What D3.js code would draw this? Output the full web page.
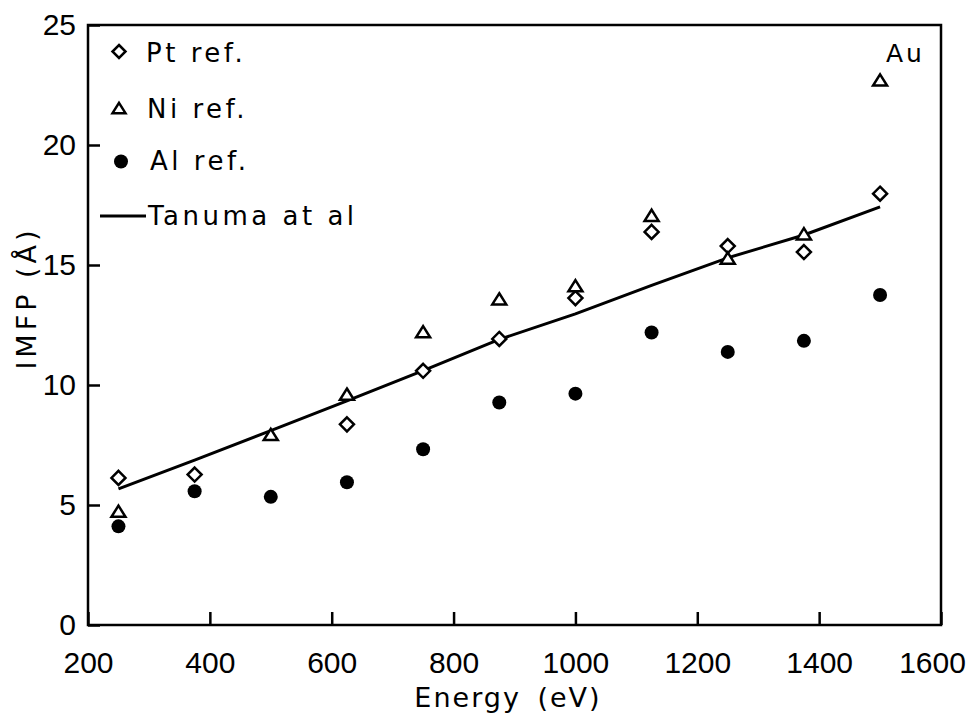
<!DOCTYPE html>
<html>
<head>
<meta charset="utf-8">
<script src="https://cdn.jsdelivr.net/npm/d3@7"></script>
<style>
  html, body { margin: 0; padding: 0; background: #fff; }
  svg { display: block; }
  .tick text { font-family: "Liberation Sans", Arial, sans-serif; font-size: 30px; fill: #000; }
  .lbl { font-family: "DejaVu Sans", sans-serif; fill: #000; }
</style>
</head>
<body>
<script>
// ---- data ----
const energies = [250, 375, 500, 625, 750, 875, 1000, 1125, 1250, 1375, 1500];
const ptRef   = [6.13, 6.27, null, 8.36, 10.59, 11.92, 13.62, 16.38, 15.79, 15.54, 17.97];
const niRef   = [4.74, null, 7.94, 9.62, 12.22, 13.59, 14.14, 17.07, 15.29, 16.30, 22.71];
const alRef   = [4.11, 5.57, 5.34, 5.95, 7.32, 9.27, 9.64, 12.19, 11.38, 11.84, 13.75];
const tanuma  = [5.67, 6.87, 8.10, 9.34, 10.60, 11.90, 12.96, 14.15, 15.30, 16.25, 17.42];
const xTicks = [200, 400, 600, 800, 1000, 1200, 1400, 1600];
const yTicks = [0, 5, 10, 15, 20, 25];
const legendLabels = ["Pt ref.", "Ni ref.", "Al ref.", "Tanuma at al"];
const annotation = "Au";

const W = 969, H = 717;
const svg = d3.select("body").append("svg").attr("width", W).attr("height", H);

const x = d3.scaleLinear().domain([200, 1600]).range([88, 941]);
const y = d3.scaleLinear().domain([0, 25]).range([625, 25]);

// frame
svg.append("rect")
  .attr("x", x(200)).attr("y", y(25))
  .attr("width", x(1600) - x(200)).attr("height", y(0) - y(25))
  .attr("fill", "none").attr("stroke", "#000").attr("stroke-width", 2.5);

// axes
const xAxis = svg.append("g").attr("transform", `translate(0,${y(0)})`)
  .call(d3.axisBottom(x).tickValues(xTicks).tickSize(-13).tickPadding(27).tickFormat(d3.format("d")));
xAxis.select(".domain").remove();
xAxis.selectAll(".tick line").attr("stroke", "#000").attr("stroke-width", 2.5);
xAxis.selectAll(".tick text").filter(d => d === 1600).attr("dx", -9);

const yAxis = svg.append("g").attr("transform", `translate(${x(200)},0)`)
  .call(d3.axisLeft(y).tickValues(yTicks).tickSize(-12).tickPadding(12).tickFormat(d3.format("d")));
yAxis.select(".domain").remove();
yAxis.selectAll(".tick line").attr("stroke", "#000").attr("stroke-width", 2.5);

// axis titles
svg.append("text").attr("class", "lbl")
  .attr("x", 508).attr("y", 707).attr("text-anchor", "middle")
  .style("font-size", "27px").style("letter-spacing", "2px").style("word-spacing", "6px")
  .text("Energy (eV)");
svg.append("text").attr("class", "lbl")
  .attr("transform", "translate(36,298) rotate(-90)").attr("text-anchor", "middle")
  .style("font-size", "27px").style("letter-spacing", "4px")
  .text("IMFP (Å)");

// Tanuma line
const line = d3.line().x((d, i) => x(energies[i])).y(d => y(d));
svg.append("path").datum(tanuma)
  .attr("d", line).attr("fill", "none").attr("stroke", "#000").attr("stroke-width", 3);

// markers
const diamond = s => `M0,${-s} L${s},0 L0,${s} L${-s},0 Z`;
const triangle = s => `M0,${-s * 0.8} L${s},${s * 0.8} L${-s},${s * 0.8} Z`;

function pts(arr) {
  return arr.map((v, i) => ({ e: energies[i], v })).filter(d => d.v !== null);
}

svg.append("g").selectAll("path").data(pts(ptRef)).join("path")
  .attr("transform", d => `translate(${x(d.e)},${y(d.v)})`)
  .attr("d", diamond(7)).attr("fill", "#fff").attr("stroke", "#000").attr("stroke-width", 2.5);

svg.append("g").selectAll("path").data(pts(niRef)).join("path")
  .attr("transform", d => `translate(${x(d.e)},${y(d.v)})`)
  .attr("d", triangle(7)).attr("fill", "#fff").attr("stroke", "#000").attr("stroke-width", 2.5);

svg.append("g").selectAll("circle").data(pts(alRef)).join("circle")
  .attr("cx", d => x(d.e)).attr("cy", d => y(d.v)).attr("r", 7).attr("fill", "#000");

// annotation
svg.append("text").attr("class", "lbl")
  .attr("x", 886).attr("y", 62)
  .style("font-size", "25px").style("letter-spacing", "3px")
  .text(annotation);

// legend
const leg = svg.append("g");
const rows = [
  { yc: 51.5, base: 62, tx: 146 },
  { yc: 108, base: 118, tx: 147 },
  { yc: 161.5, base: 170, tx: 150 },
  { yc: 216, base: 225, tx: 148 }
];
leg.append("path").attr("transform", `translate(119,${rows[0].yc})`)
  .attr("d", diamond(6.5)).attr("fill", "#fff").attr("stroke", "#000").attr("stroke-width", 2.5);
leg.append("path").attr("transform", `translate(119,${rows[1].yc})`)
  .attr("d", triangle(6.5)).attr("fill", "#fff").attr("stroke", "#000").attr("stroke-width", 2.5);
leg.append("circle").attr("cx", 121).attr("cy", rows[2].yc).attr("r", 7).attr("fill", "#000");
leg.append("line").attr("x1", 100).attr("x2", 146).attr("y1", rows[3].yc).attr("y2", rows[3].yc)
  .attr("stroke", "#000").attr("stroke-width", 3);
legendLabels.forEach((t, i) => {
  leg.append("text").attr("class", "lbl")
    .attr("x", rows[i].tx).attr("y", rows[i].base)
    .style("font-size", "26px").style("letter-spacing", "3.5px")
    .text(t);
});
</script>
</body>
</html>
